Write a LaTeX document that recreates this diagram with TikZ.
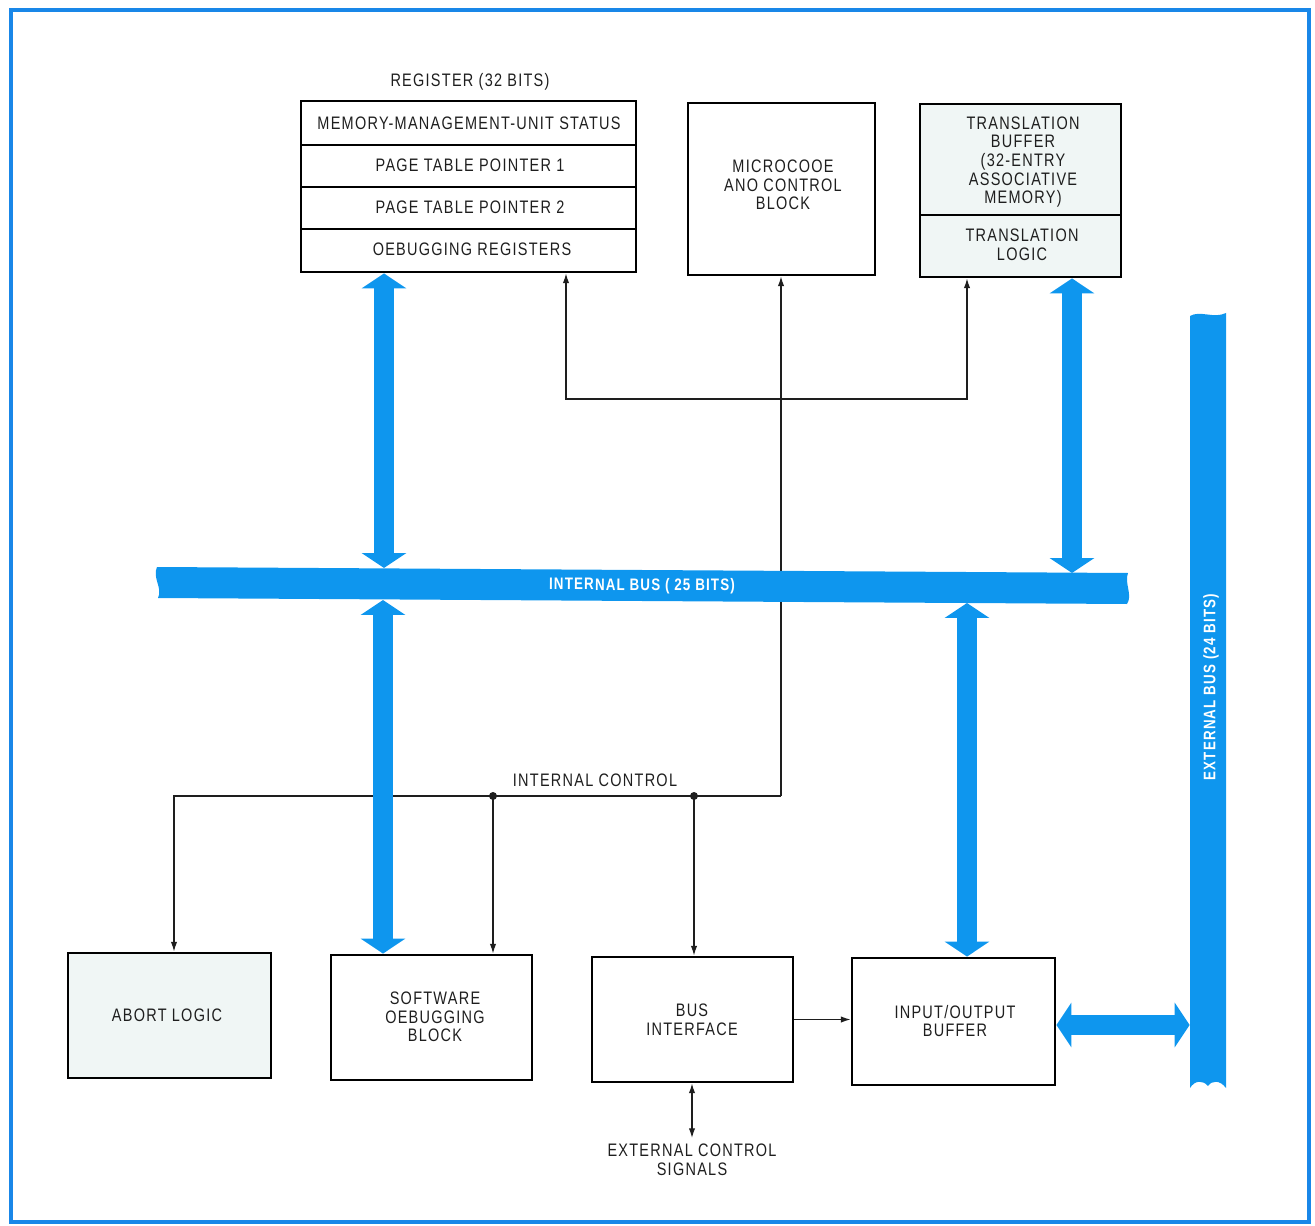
\documentclass[tikz,border=0pt]{standalone}
\usepackage{fontspec}
\usetikzlibrary{arrows.meta,fit,calc}
\newfontfamily\lab[FakeStretch=0.8,LetterSpace=7]{Liberation Sans}
\definecolor{busblue}{RGB}{14,150,238}
\definecolor{frameblue}{RGB}{25,135,232}
\definecolor{boxfill}{RGB}{240,246,245}
\definecolor{txt}{RGB}{30,30,30}
\begin{document}
\begin{tikzpicture}[x=0.02cm,y=-0.02cm,
  lbl/.style={font=\lab\fontsize{10.3}{10.6}\selectfont, text=txt, align=center, inner sep=0pt},
  box/.style={draw=black, line width=1.6pt, inner sep=0pt},
  row/.style={draw=black, line width=1.1pt, inner sep=0pt},
  tarr/.style={draw=txt, line width=0.7pt, -{Latex[length=5.5pt,width=3.6pt]}},
  barr/.style={draw=busblue, line width=11.5pt, {Triangle[length=8.5pt,width=25pt]}-{Triangle[length=8.5pt,width=25pt]}},
  buslbl/.style={font=\lab\bfseries\fontsize{9.5}{9.5}\selectfont, text=white, inner sep=0pt}]
\useasboundingbox (0,0) rectangle (1315,1226);
\draw[frameblue, line width=2.8pt] (11,10) rectangle (1309,1222);

% register block
\node[lbl] (regt) at (470,82) {REGISTER (32 BITS)};
\node[row, fit={(301,101) (636,145)}] (r1) {};
\node[row, fit={(301,145) (636,187)}] (r2) {};
\node[row, fit={(301,187) (636,229)}] (r3) {};
\node[row, fit={(301,229) (636,272)}] (r4) {};
\node[box, fit={(301,101) (636,272)}] (reg) {};
\node[lbl] at (469,123) {MEMORY-MANAGEMENT-UNIT STATUS};
\node[lbl] at (470,165) {PAGE TABLE POINTER 1};
\node[lbl] at (470,207) {PAGE TABLE POINTER 2};
\node[lbl] at (472,249) {OEBUGGING REGISTERS};

% microcode
\node[box, fit={(688,103) (875,275)}] (mc) {};
\node[lbl] at (783,185) {MICROCOOE\\ANO CONTROL\\BLOCK};

% translation
\node[box, fill=boxfill, fit={(920,104) (1121,215)}] (tbuf) {};
\node[box, fill=boxfill, fit={(920,215) (1121,277)}] (tlog) {};
\node[lbl] at (1023,162) {TRANSLATION\\BUFFER\\(32-ENTRY\\ASSOCIATIVE\\MEMORY)};
\node[lbl] at (1022,245) {TRANSLATION\\LOGIC};

% bottom blocks
\node[box, fill=boxfill, fit={(68,953) (271,1078)}] (abort) {};
\node[box, fit={(331,955) (532,1080)}] (sdb) {};
\node[box, fit={(592,957) (793,1082)}] (bi) {};
\node[box, fit={(852,958) (1055,1085)}] (io) {};
\node[lbl] at (167,1015) {ABORT LOGIC};
\node[lbl] at (435,1017) {SOFTWARE\\OEBUGGING\\BLOCK};
\node[lbl] at (692,1020) {BUS\\INTERFACE};
\node[lbl] at (955,1021) {INPUT/OUTPUT\\BUFFER};

% thin control lines
\coordinate (ctl) at (781,796);
\coordinate (cA) at (174,796);
\coordinate (d1) at (493,796);
\coordinate (d2) at (694,796);
\coordinate (t) at (781,399);
\coordinate (tl) at (566,399);
\coordinate (tr) at (967,399);
\draw[tarr] (ctl) -- (ctl |- mc.south);
\draw[tarr] (ctl) -- (cA) -- (cA |- abort.north);
\draw[tarr] (d1) -- (d1 |- sdb.north);
\draw[tarr] (d2) -- (d2 |- bi.north);
\fill[txt] (d1) circle (4);
\fill[txt] (d2) circle (4);
\draw[tarr] (t) -| (tl |- reg.south);
\draw[tarr] (t) -| (tr |- tlog.south);
\draw[tarr] (bi.east) -- (bi.east -| io.west);
\coordinate (ec) at (692,1138);
\draw[draw=txt, line width=0.7pt, {Latex[length=5.5pt,width=3.6pt]}-{Latex[length=5.5pt,width=3.6pt]}] (bi.south -| ec) -- (ec);
\node[lbl] (ecs) at (692,1160) {EXTERNAL CONTROL\\SIGNALS};
\node[lbl, anchor=base] (icl) at (595,786) {INTERNAL CONTROL};

% buses
\fill[busblue] (157,567) -- (1128,573) .. controls (1124,583) and (1133,595) .. (1127,604) -- (158,598) .. controls (163,588) and (152,578) .. cycle;
\node[inner sep=0pt, fit={(157,567) (1128,604)}] (ibus) {};
\node[buslbl, rotate=-0.35] at (642,586) {INTERNAL BUS ( 25 BITS)};
\fill[busblue] (1190,316) .. controls (1200,310) and (1214,319) .. (1226,313) -- (1226,1088) .. controls (1220,1080) and (1212,1080) .. (1208,1086) .. controls (1203,1080) and (1195,1080) .. (1190,1088) -- cycle;
\node[inner sep=0pt, fit={(1190,316) (1226,1088)}] (ebus) {};
\node[buslbl, rotate=90] at (1211,687) {EXTERNAL BUS (24 BITS)};

% bus edge points (the internal bus is slightly tilted)
\coordinate (ib1t) at (384,568);
\coordinate (ib1b) at (383,600);
\coordinate (ib3t) at (1072,573);
\coordinate (ib4b) at (967,603);
\coordinate (h) at (0,1025);
\draw[barr] (reg.south -| ib1t) -- (ib1t);
\draw[barr] (ib1b) -- (sdb.north -| ib1b);
\draw[barr] (tlog.south -| ib3t) -- (ib3t);
\draw[barr] (ib4b) -- (io.north -| ib4b);
\draw[barr] (io.east |- h) -- (ebus.west |- h);
\end{tikzpicture}
\end{document}
